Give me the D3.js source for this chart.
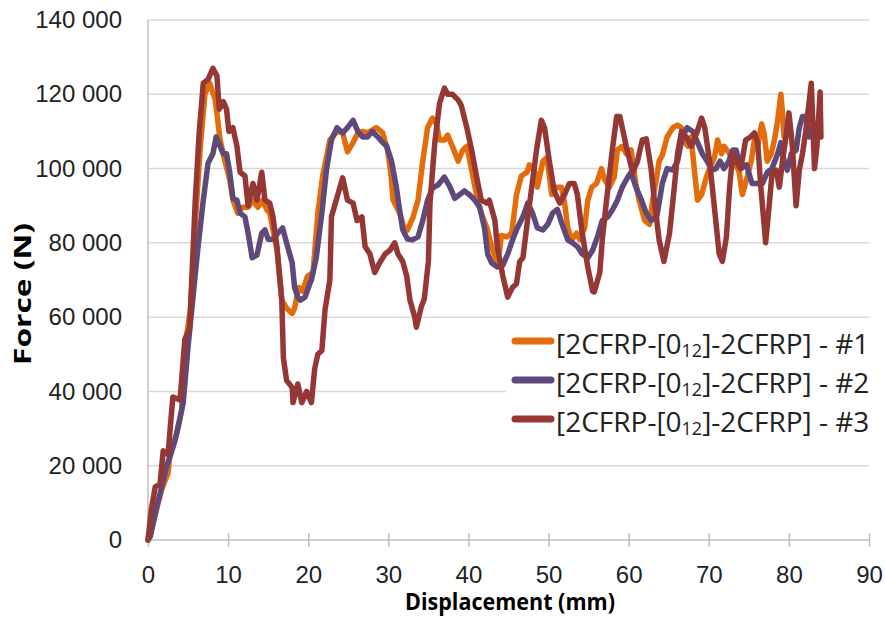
<!DOCTYPE html>
<meta charset="utf-8">
<style>
    body { margin: 0; background: #fff; }
    svg { font-family: "Open Sans", sans-serif; }
    .grid line { stroke: #d9d9d9; stroke-width: 1.5; }
    .axis path, .axis line { stroke: #bfbfbf; stroke-width: 1.5; }
    .tick text { fill: #222; font-size: 24px; }
    .series { fill: none; stroke-width: 5.5; stroke-linejoin: round; stroke-linecap: round; }
</style>
<body>
<script src="https://d3js.org/d3.v7.min.js"></script>
<script>
// [displacement mm, force N]
var test1 = [[0,0],[0.8,6000],[1.7,13500],[2.5,18000],[2.7,22000],[3.7,29600],[4.2,35000],[4.6,52000],[5.3,62000],[5.9,85000],[6.5,105000],[7.1,120000],[7.7,123000],[8.4,118500],[9.0,107700],[9.6,102000],[10.2,97000],[10.6,91500],[11.2,88000],[11.8,89600],[12.5,89600],[13.1,91500],[13.7,89600],[14.3,91500],[14.8,89000],[15.2,88000],[16.1,78000],[16.7,64600],[17.3,62400],[18.0,61000],[18.3,62400],[18.8,68000],[19.3,67000],[19.9,71000],[20.6,72000],[21.2,88000],[21.8,98000],[22.7,107700],[23.6,110000],[24.3,109600],[24.9,104500],[25.6,107000],[26.2,109600],[26.8,110000],[27.4,109600],[28.5,111000],[29.3,109600],[29.9,105000],[30.3,99000],[30.6,91500],[31.4,88000],[32.0,84000],[32.4,83500],[33.1,87000],[33.7,91500],[34.3,102000],[34.9,111000],[35.5,113600],[36.0,112000],[36.4,107700],[37.0,107700],[37.4,109000],[38.0,106000],[38.7,102000],[39.3,105000],[39.8,106000],[40.4,99600],[41.0,93000],[41.6,88000],[42.3,84000],[42.9,79000],[43.5,75000],[43.9,78000],[44.1,82000],[44.8,81600],[45.4,82600],[46.0,93000],[46.6,98000],[47.3,99000],[47.6,101000],[48.3,99000],[48.6,95000],[49.3,102000],[49.8,103000],[50.4,93000],[51.0,95000],[51.6,95000],[52.0,90700],[52.4,84000],[52.9,80800],[53.5,82600],[53.9,80800],[54.5,84000],[54.9,91500],[55.4,95000],[56.0,96000],[56.6,100000],[57.0,97000],[57.6,95000],[58.2,97700],[58.6,105000],[59.2,106000],[59.7,104000],[60.3,105000],[60.9,96000],[61.3,91500],[62.0,86000],[62.6,85000],[63.0,91500],[63.5,97700],[63.8,102000],[64.2,103600],[64.8,108500],[65.5,111000],[66.1,111700],[66.6,111000],[67.0,107000],[67.4,106000],[67.8,108500],[68.2,99600],[68.6,91500],[69.1,93000],[69.7,97700],[70.3,101000],[70.7,103000],[71.1,107700],[71.6,104000],[71.9,106000],[72.6,104000],[72.9,102000],[73.4,101000],[73.8,99000],[74.2,93000],[74.7,97000],[75.3,102000],[75.7,107700],[76.1,106000],[76.6,112000],[76.9,109600],[77.3,102000],[77.8,104000],[78.2,107700],[78.6,113000],[79.0,120000],[79.2,115000],[79.4,108500],[79.8,110000]];

var test2 = [[0,0],[0.3,1000],[1.1,9000],[2.3,19600],[3.4,27000],[4.4,37000],[5.0,52000],[5.6,65000],[6.2,78000],[6.9,91500],[7.5,101500],[8.1,104000],[8.5,108500],[9.0,106000],[9.4,104000],[9.8,104000],[10.2,99000],[10.6,92000],[11.1,91500],[11.5,88000],[12.1,87000],[12.5,82600],[13.0,76000],[13.6,76700],[14.2,82600],[14.6,83500],[15.0,81000],[15.6,81000],[16.2,82600],[16.8,84000],[17.3,80000],[18.0,74600],[18.3,68000],[18.7,65400],[19.0,64600],[19.6,65400],[20.2,69000],[20.4,70000],[21.0,76000],[21.7,88000],[22.3,100000],[22.9,107700],[23.6,111000],[24.3,109600],[24.9,111000],[25.6,113000],[26.2,110000],[26.8,108500],[27.4,108500],[28.0,110000],[28.7,108500],[29.3,107000],[29.8,106000],[30.4,102000],[31.0,95000],[31.4,89000],[31.8,83500],[32.4,81000],[33.0,80800],[33.7,81600],[34.3,86000],[34.9,91500],[35.5,94700],[36.2,95600],[37.0,97700],[37.7,95000],[38.3,92000],[38.9,93000],[39.5,94000],[40.1,93000],[40.8,91500],[41.4,89600],[42.0,84000],[42.4,77000],[42.9,74600],[43.6,73500],[44.3,74000],[44.9,77000],[45.5,80800],[46.1,84000],[46.8,87000],[47.4,90700],[48.0,88000],[48.6,84000],[49.3,83500],[49.9,85000],[50.5,88000],[51.1,89000],[51.7,85000],[52.4,80800],[53.0,80000],[53.6,79000],[54.2,77000],[54.9,76000],[55.5,78000],[56.1,81600],[56.7,86000],[57.4,87000],[58.0,89000],[58.6,91500],[59.2,95000],[59.9,97700],[60.3,99000],[60.9,95000],[61.6,91500],[62.2,88000],[62.8,86000],[63.5,87000],[63.8,90700],[64.2,96000],[64.8,100000],[65.5,99600],[66.1,102000],[66.7,108500],[67.3,111000],[68.0,110000],[68.6,107000],[69.2,104000],[69.8,102000],[70.4,99600],[70.9,100000],[71.4,102000],[71.9,100000],[72.5,102000],[73.0,105000],[73.4,105000],[74.0,100000],[74.7,101000],[75.4,96000],[76.1,96000],[76.7,96000],[77.3,99000],[77.9,100000],[78.6,104000],[79.0,107000],[79.4,102000],[79.8,99600],[80.3,104000],[80.9,105000],[81.3,111000],[81.7,114000],[82.2,114000],[82.5,108500]];

var test3 = [[0,0],[0.4,8000],[0.9,14300],[1.5,15000],[1.9,24000],[2.5,23000],[3.1,38500],[4.0,37700],[4.6,54000],[5.2,57000],[5.9,91500],[6.4,110000],[6.9,123000],[7.5,124000],[8.1,127000],[8.6,125000],[8.9,116000],[9.4,118000],[9.8,116000],[10.1,110000],[10.6,111000],[11.1,106000],[11.5,99000],[12.1,98000],[12.5,90000],[13.1,96000],[13.6,91500],[14.2,99000],[14.6,91500],[15.2,90700],[15.6,87000],[16.1,79000],[16.7,64600],[16.9,49000],[17.3,43000],[18.0,41000],[18.1,37000],[18.7,42000],[19.2,37000],[19.8,40000],[20.4,37000],[20.8,46000],[21.2,50000],[21.7,51000],[22.1,62000],[22.7,70000],[22.9,87000],[23.7,93000],[24.3,97500],[24.9,91500],[25.6,90700],[26.1,86000],[26.7,87000],[27.1,79000],[27.7,77000],[28.3,72000],[28.9,74600],[29.6,77000],[30.2,78000],[30.8,80000],[31.2,77000],[31.8,75000],[32.3,71000],[32.7,64600],[33.3,60000],[33.5,57300],[34.1,62700],[34.5,65000],[35.0,75000],[35.2,90700],[35.8,107000],[36.4,117600],[37.0,121700],[37.4,120000],[38.0,120000],[38.7,118500],[39.1,117000],[39.8,111000],[40.4,105000],[41.0,98000],[41.6,91500],[42.3,90700],[42.6,91500],[43.3,86000],[43.6,79000],[44.3,71000],[44.9,65400],[45.5,68000],[46.0,69000],[46.4,75000],[46.8,76000],[47.6,90000],[48.5,105000],[49.1,113000],[49.5,111000],[50.1,102000],[50.7,94000],[51.4,90700],[52.0,93000],[52.6,96000],[53.2,96000],[53.6,93000],[54.2,82600],[54.9,73500],[55.5,67000],[55.7,66800],[56.4,72000],[56.7,80700],[57.2,90700],[57.9,104000],[58.5,114000],[58.9,114000],[59.7,106000],[60.5,99000],[61.1,102000],[61.7,107700],[62.2,108000],[62.8,100000],[63.2,91500],[63.8,80800],[64.4,75000],[65.1,82600],[65.7,95000],[66.1,104000],[66.6,110000],[67.2,108500],[67.8,106000],[68.5,109600],[69.1,113600],[69.5,111000],[70.1,102000],[70.7,89600],[71.3,77000],[71.7,75000],[72.2,81600],[72.6,95000],[73.0,104000],[73.4,102000],[74.0,100000],[74.6,107700],[75.2,108500],[75.7,109600],[76.1,107000],[76.5,95000],[77.1,80000],[77.6,91500],[77.9,99000],[78.4,99600],[78.8,95000],[79.2,102000],[79.7,109600],[80.0,115000],[80.4,107000],[80.9,90000],[81.3,99600],[81.7,104000],[82.1,110000],[82.8,123000],[83.2,100000],[83.5,106000],[83.9,120600],[84.0,108500]];

var seriesNames = ["#1", "#2", "#3"];
var seriesColors = ["#e46c0a", "#5f497a", "#953735"];
var xTicks = [0, 10, 20, 30, 40, 50, 60, 70, 80, 90];
var yTicks = [0, 20000, 40000, 60000, 80000, 100000, 120000, 140000];

var width = 885, height = 617;
var svg = d3.select("body").append("svg")
    .attr("width", width)
    .attr("height", height);

var x = d3.scaleLinear().domain([0, 90]).range([148, 869]);
var y = d3.scaleLinear().domain([0, 140000]).range([540, 20]);

var fmt = function (v) { return d3.format(",")(v).replace(/,/g, " "); };

// horizontal grid
svg.append("g").attr("class", "grid")
    .selectAll("line").data(yTicks.slice(1)).enter().append("line")
    .attr("x1", x(0)).attr("x2", x(90))
    .attr("y1", function (d) { return y(d); })
    .attr("y2", function (d) { return y(d); });

// y axis
var yAxis = svg.append("g").attr("class", "axis")
    .attr("transform", "translate(" + x(0) + ",0)")
    .call(d3.axisLeft(y).tickValues(yTicks).tickFormat(fmt).tickSize(0).tickPadding(26));
yAxis.select(".domain").attr("d", "M0," + y(140000) + "V" + y(0));

// x axis, ticks cross the line
var xAxis = svg.append("g").attr("class", "axis")
    .attr("transform", "translate(0," + y(0) + ")")
    .call(d3.axisBottom(x).tickValues(xTicks).tickSizeOuter(0).tickSize(7).tickPadding(19));
xAxis.selectAll(".tick line").attr("y1", -7).attr("y2", 7);
xAxis.select(".domain").attr("d", "M" + x(0) + ",0H" + x(90));

// series
var line = d3.line()
    .x(function (d) { return x(d[0]); })
    .y(function (d) { return y(d[1]); });

[test1, test2, test3].forEach(function (s, i) {
    svg.append("path").attr("class", "series")
        .attr("stroke", seriesColors[i])
        .attr("d", line(s));
});

// axis titles
svg.append("text")
    .attr("x", 510).attr("y", 610)
    .attr("text-anchor", "middle")
    .attr("textLength", 210).attr("lengthAdjust", "spacingAndGlyphs")
    .style("font-weight", "bold").style("font-size", "22.5px")
    .text("Displacement (mm)");

svg.append("text")
    .attr("transform", "translate(31,294) rotate(-90)")
    .attr("text-anchor", "middle")
    .attr("textLength", 142).attr("lengthAdjust", "spacingAndGlyphs")
    .style("font-weight", "bold").style("font-size", "22.5px")
    .text("Force (N)");

// legend
var legend = svg.append("g");
legend.append("rect")
    .attr("x", 506).attr("y", 326).attr("width", 375).attr("height", 114)
    .attr("fill", "#fff");

var rows = legend.selectAll("g.row").data(seriesNames).enter().append("g")
    .attr("transform", function (d, i) { return "translate(0," + (341 + i * 39) + ")"; });

rows.append("line")
    .attr("x1", 515).attr("x2", 551)
    .attr("stroke", function (d, i) { return seriesColors[i]; })
    .attr("stroke-width", 7).attr("stroke-linecap", "round");

var label = rows.append("text")
    .attr("x", 556).attr("y", 13)
    .style("font-size", "28px").attr("fill", "#222");
label.append("tspan").text("[2CFRP-[0");
label.append("tspan").style("font-size", "18px").attr("dy", 3).text("12");
label.append("tspan").attr("dy", -3).text("]-2CFRP] - ");
label.append("tspan").text(function (d) { return d; });
</script>
</body>
